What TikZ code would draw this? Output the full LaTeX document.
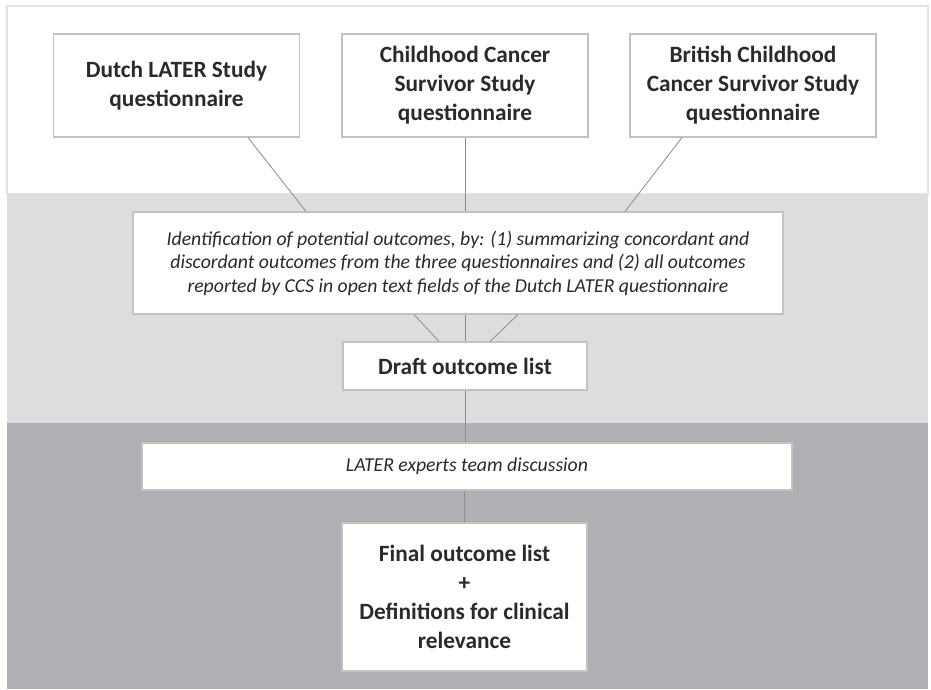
\documentclass[tikz,border=0pt]{standalone}
\usepackage{fontspec}
\setmainfont{Carlito}
\usepackage{tikz}
\usetikzlibrary{calc}
\definecolor{bandlight}{HTML}{DCDDDF}
\definecolor{banddark}{HTML}{AFB0B3}
\definecolor{boxline}{HTML}{C2C2C2}
\definecolor{linkgray}{HTML}{8C8C8C}
\definecolor{inkgray}{HTML}{2A2A2A}
\definecolor{framegray}{HTML}{E2E2E2}

\begin{document}
\begin{tikzpicture}[x=0.75pt, y=-0.75pt,
    qbox/.style={draw=boxline, line width=0.8pt, fill=white, text=inkgray, align=center, inner sep=0pt},
    boldtext/.style={font=\bfseries\fontsize{17.5}{21.75}\selectfont},
    italtext/.style={font=\itshape\fontsize{14.8}{17.6}\selectfont},
    link/.style={draw=linkgray, line width=0.6pt}]

              \useasboundingbox (0,0) rectangle (931,689);

              % Background bands
              \draw[framegray, fill=white, line width=0.8pt] (7,6) rectangle (928,194);
              \fill[bandlight] (7,194) rectangle (928,423);
              \fill[banddark] (7,423) rectangle (928,689);

              % The three source questionnaires
              \node[qbox, boldtext, minimum width=184.5pt, minimum height=77.25pt] (dutch) at (176.5,85.5) {Dutch LATER Study\\questionnaire};
              \node[qbox, boldtext, minimum width=184.5pt, minimum height=77.25pt] (ccss) at (465,85.5) {Childhood Cancer\\Survivor Study\\questionnaire};
              \node[qbox, boldtext, minimum width=184.5pt, minimum height=77.25pt] (bccss) at (753,85.5) {British Childhood\\Cancer Survivor Study\\questionnaire};

              % Identification step
              \node[qbox, italtext, minimum width=487.5pt, minimum height=76.5pt] (ident) at (458,263) {Identification of potential outcomes, by: (1) summarizing concordant and\\discordant outcomes from the three questionnaires and (2) all outcomes\\reported by CCS in open text fields of the Dutch LATER questionnaire};

              % Draft list
              \node[qbox, boldtext, minimum width=183pt, minimum height=36pt] (draft) at (465,366) {Draft outcome list};

              % Expert discussion
              \node[qbox, italtext, minimum width=487.5pt, minimum height=35.25pt] (experts) at (467,466.5) {LATER experts team discussion};

              % Final list
              \node[qbox, boldtext, minimum width=183.75pt, minimum height=111pt] (final) at (464.5,597) {Final outcome list\\+\\Definitions for clinical\\relevance};

              % Connectors from the questionnaires
              \draw[link] ($(dutch.south)+(71.5,0)$) -- ($(ident.north)+(-152,0)$);
              \draw[link] (ccss.south) -- ($(ident.north)+(7,0)$);
              \draw[link] ($(bccss.south)+(-71,0)$) -- ($(ident.north)+(167,0)$);

              % Connectors to the draft list
              \draw[link] ($(ident.south)+(-44,0)$) -- ($(draft.north)+(-26,0)$);
              \draw[link] ($(ident.south)+(7,0)$) -- (draft.north);
              \draw[link] ($(ident.south)+(60,0)$) -- ($(draft.north)+(25,0)$);

              % Connectors down to the final list
              \draw[link] (draft.south) -- (draft.south |- experts.north);
              \draw[link] (experts.south -| final.north) -- (final.north);
            \end{tikzpicture}
\end{document}
